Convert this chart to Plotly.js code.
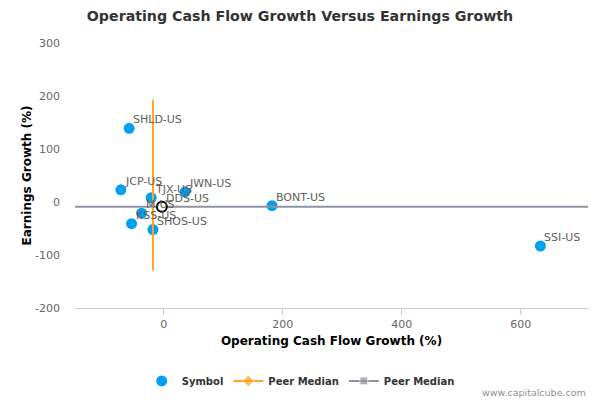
<!DOCTYPE html>
<html>
<head>
<meta charset="utf-8">
<script src="https://cdn.plot.ly/plotly-3.0.1.min.js"></script>
<style>html,body{margin:0;padding:0;background:#fff;}#chart{width:600px;height:400px;}</style>
</head>
<body>
<div id="chart"></div>
<script>
// Data
var symbols = ["SHLD-US", "JCP-US", "TJX-US", "JWN-US", "DDS-US", "BONT-US", "M-US", "KSS-US", "SHOS-US", "SSI-US"];
var cashFlowGrowth = [-58, -72, -21, 36, -3, 182, -37, -54, -18, 633];
var earningsGrowth = [139, 23, 8, 19, -9, -7, -21, -41, -52, -83];
var highlightSymbol = "DDS-US";

var peerMedianX = [-18, -18];
var peerMedianXSpan = [192, -129];
var peerMedianYSpan = [-149, 713];
var peerMedianY = [-9, -9];

var xTicks = [0, 200, 400, 600];
var yTicks = [-200, -100, 0, 100, 200, 300];

var FONT = "DejaVu Sans, Verdana, sans-serif";
var hi = symbols.indexOf(highlightSymbol);

var traces = [
  {
    type: "scatter", mode: "markers", name: "Symbol",
    x: cashFlowGrowth, y: earningsGrowth,
    marker: {color: "#03A0EF", size: 11, line: {width: 0}},
    hoverinfo: "skip"
  },
  {
    // peer median (x): trailing null only sizes the legend marker, draws nothing
    type: "scatter", mode: "lines+markers", name: "Peer Median",
    x: peerMedianX.concat([null]), y: peerMedianXSpan.concat([null]),
    line: {color: "#FFA41C", width: 2},
    marker: {symbol: "diamond", size: [0, 0, 27], color: "#FFA41C"},
    hoverinfo: "skip"
  },
  {
    type: "scatter", mode: "lines+markers", name: "Peer Median",
    x: peerMedianYSpan.concat([null]), y: peerMedianY.concat([null]),
    line: {color: "#8F94A3", width: 2},
    marker: {symbol: "square", size: [0, 0, 24], color: "#8F94A3"},
    hoverinfo: "skip"
  },
  {
    type: "scatter", mode: "markers", showlegend: false,
    x: [cashFlowGrowth[hi]], y: [earningsGrowth[hi]],
    marker: {color: "#ffffff", size: 10, line: {color: "#000000", width: 2}},
    hoverinfo: "skip"
  }
];

var labelAnnotations = symbols.map(function (s, i) {
  return {
    text: s, x: cashFlowGrowth[i], y: earningsGrowth[i], xref: "x", yref: "y",
    xanchor: "left", yanchor: "bottom", xshift: 2, yshift: 0, showarrow: false,
    font: {family: FONT, size: 11, color: "#606060"}
  };
});

var layout = {
  width: 600, height: 400,
  margin: {l: 75, r: 12, t: 43, b: 92, autoexpand: false},
  paper_bgcolor: "#ffffff", plot_bgcolor: "#ffffff",
  font: {family: FONT, color: "#606060", size: 11},
  title: {text: "Operating Cash Flow Growth Versus Earnings Growth",
          font: {family: FONT, size: 14.2, color: "#333333", weight: "bold"},
          x: 0.5, xanchor: "center", y: 0.96, yanchor: "middle", yref: "container"},
  xaxis: {
    range: [-149, 713], tickvals: xTicks, ticktext: xTicks.map(String),
    showgrid: false, zeroline: false,
    showline: true, linecolor: "#C0D0E0", linewidth: 1,
    ticks: "outside", ticklen: 6, tickcolor: "#C0D0E0",
    tickfont: {family: FONT, size: 11, color: "#666666"},
    title: {text: "Operating Cash Flow Growth (%)", standoff: 6,
            font: {family: FONT, size: 12, color: "#000000", weight: "bold"}}
  },
  yaxis: {
    range: [-200, 300], tickvals: yTicks, ticktext: yTicks.map(String),
    showgrid: false, zeroline: false, showline: false,
    ticks: "", ticklabelstandoff: 14,
    tickfont: {family: FONT, size: 11, color: "#666666"},
    title: {text: "Earnings Growth (%)", standoff: 0,
            font: {family: FONT, size: 12, color: "#000000", weight: "bold"}}
  },
  showlegend: true,
  legend: {orientation: "h", x: 0.44, xanchor: "center", y: -0.275, yanchor: "middle",
           font: {family: FONT, size: 10, color: "#333333", weight: "bold"},
           itemwidth: 30, tracegroupgap: 0},
  annotations: labelAnnotations.concat([{
    text: "www.capitalcube.com", xref: "paper", yref: "paper",
    x: 1, y: -0.32, xanchor: "right", yanchor: "middle", showarrow: false,
    font: {family: FONT, size: 9.5, color: "#909090"}
  }])
};

Plotly.newPlot("chart", traces, layout, {displayModeBar: false, staticPlot: true});
</script>
</body>
</html>
